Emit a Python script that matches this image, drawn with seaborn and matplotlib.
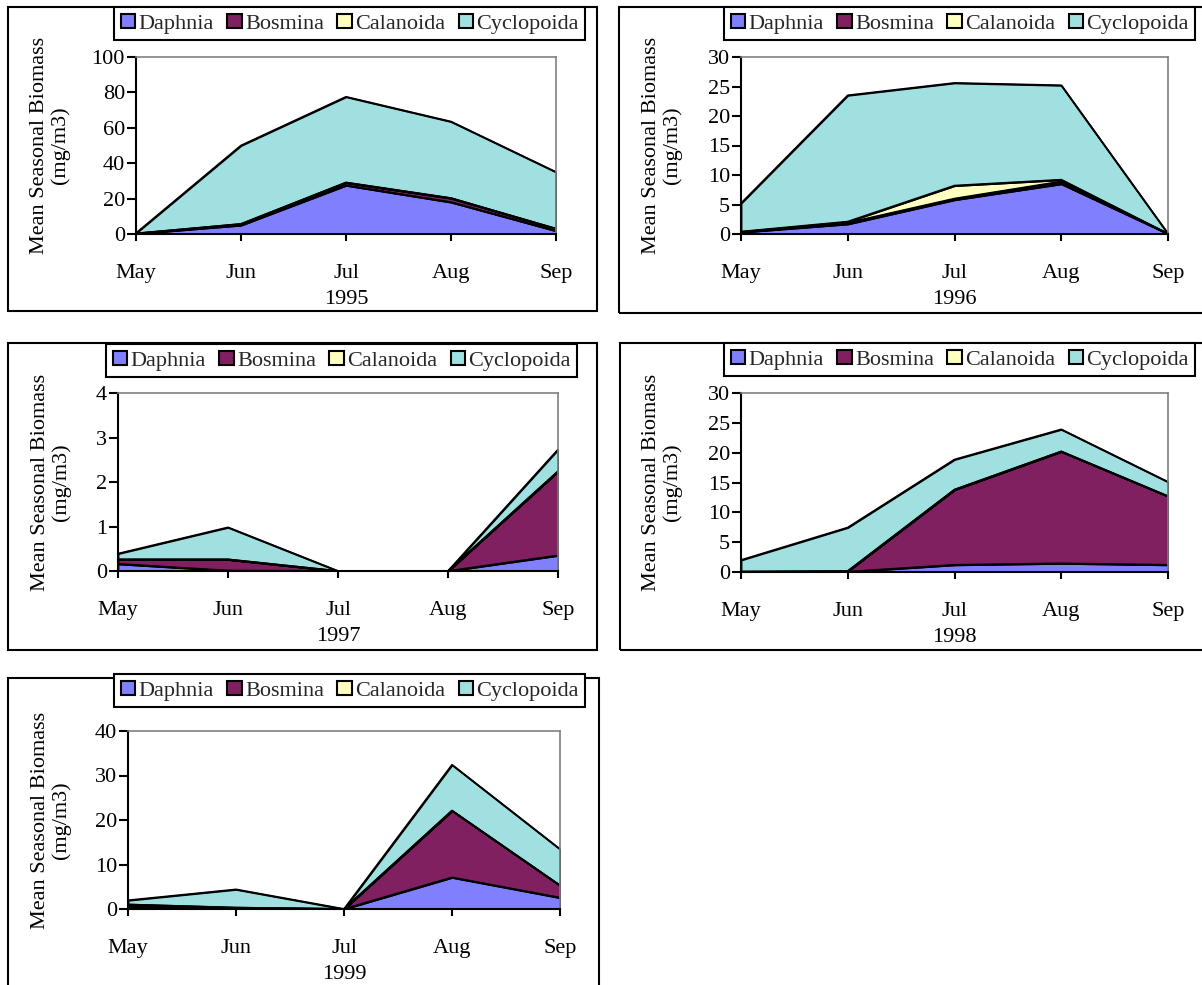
import numpy as np
import pandas as pd
import matplotlib
matplotlib.use("Agg")
import matplotlib.pyplot as plt
import seaborn as sns
from matplotlib.patches import Patch, Rectangle

# ---------------- data ----------------
months = ["May", "Jun", "Jul", "Aug", "Sep"]
species = ["Daphnia", "Bosmina", "Calanoida", "Cyclopoida"]
colors = ["#8080FF", "#802060", "#FFFFC0", "#A0E0E0"]

years = ["1995", "1996", "1997", "1998", "1999"]

daphnia_1995 = [0.2, 5.0, 27.5, 18.0, 1.8]
bosmina_1995 = [0.1, 0.6, 1.5, 2.2, 1.2]
calanoida_1995 = [0.0, 0.1, 0.1, 0.1, 0.0]
cyclopoida_1995 = [0.2, 44.3, 48.4, 43.2, 32.0]

daphnia_1996 = [0.3, 1.7, 5.8, 8.5, 0.05]
bosmina_1996 = [0.05, 0.2, 0.2, 0.4, 0.0]
calanoida_1996 = [0.05, 0.2, 2.2, 0.3, 0.0]
cyclopoida_1996 = [4.8, 21.4, 17.4, 16.0, 0.0]

daphnia_1997 = [0.16, 0.01, 0.0, 0.0, 0.35]
bosmina_1997 = [0.10, 0.25, 0.0, 0.0, 1.89]
calanoida_1997 = [0.0, 0.0, 0.0, 0.0, 0.0]
cyclopoida_1997 = [0.13, 0.72, 0.0, 0.0, 0.49]

daphnia_1998 = [0.05, 0.05, 1.2, 1.45, 1.2]
bosmina_1998 = [0.0, 0.1, 12.6, 18.75, 11.5]
calanoida_1998 = [0.0, 0.0, 0.0, 0.0, 0.0]
cyclopoida_1998 = [1.95, 7.3, 5.05, 3.7, 2.4]

daphnia_1999 = [0.5, 0.2, 0.0, 7.1, 2.55]
bosmina_1999 = [0.5, 0.1, 0.0, 15.0, 2.75]
calanoida_1999 = [0.0, 0.0, 0.0, 0.0, 0.0]
cyclopoida_1999 = [0.95, 4.1, 0.0, 10.3, 8.15]

y_max = [100, 30, 4, 30, 40]
y_step = [20, 5, 1, 5, 10]

series = {
    "1995": [daphnia_1995, bosmina_1995, calanoida_1995, cyclopoida_1995],
    "1996": [daphnia_1996, bosmina_1996, calanoida_1996, cyclopoida_1996],
    "1997": [daphnia_1997, bosmina_1997, calanoida_1997, cyclopoida_1997],
    "1998": [daphnia_1998, bosmina_1998, calanoida_1998, cyclopoida_1998],
    "1999": [daphnia_1999, bosmina_1999, calanoida_1999, cyclopoida_1999],
}

# ---------------- layout (pixels) ----------------
W, H = 1202, 985
axes_px = [(136, 57, 556, 234), (741, 57, 1168, 234), (118, 393, 558, 571),
           (741, 393, 1168, 572), (128, 731, 560, 909)]
frame_px = [(8, 7, 597, 311), (619, 7, 1215, 313), (8, 343, 597, 650),
            (620, 343, 1215, 650), (8, 678, 599, 1000)]
legend_px = [(114, 7), (724, 7), (106, 344), (724, 343), (114, 674)]
ylabel_x = [50, 662, 51, 662, 51]

sns.set_theme(style="ticks")
plt.rcParams["font.family"] = ["Liberation Serif", "DejaVu Serif"]
plt.rcParams["axes.facecolor"] = "white"

fig = plt.figure(figsize=(W / 100, H / 100), dpi=100)
FS = 16

for i, yr in enumerate(years):
    l, t, r, b = axes_px[i]
    ax = fig.add_axes([l / W, 1 - b / H, (r - l) / W, (b - t) / H])
    x = np.arange(len(months))
    vals = series[yr]
    ax.stackplot(x, *vals, colors=colors, edgecolor="black", linewidth=1.3)
    # cumulative outlines via seaborn
    cum = np.cumsum(np.array(vals), axis=0)
    rows = []
    for k, sp in enumerate(species):
        for j in range(len(months)):
            rows.append({"x": j, "cum": cum[k, j], "layer": sp})
    df = pd.DataFrame(rows)
    sns.lineplot(data=df, x="x", y="cum", units="layer", estimator=None,
                 color="black", linewidth=1.3, ax=ax, legend=False)

    ax.set_xlim(0, 4)
    ax.set_ylim(0, y_max[i])
    ticks = np.arange(0, y_max[i] + 1e-9, y_step[i])
    ax.set_yticks(ticks)
    ax.set_yticklabels([str(int(v)) for v in ticks], fontsize=FS)
    ax.set_xticks(x)
    ax.set_xticklabels(months, fontsize=FS)
    ax.tick_params(axis="x", length=5, width=1.5, pad=16.5, direction="out", color="black",
                   labelcolor="black")
    ax.tick_params(axis="y", length=6.5, width=1.5, pad=1.5, direction="out", color="black",
                   labelcolor="black")
    for s in ["left", "bottom"]:
        ax.spines[s].set_color("black")
        ax.spines[s].set_linewidth(1.5)
    for s in ["top", "right"]:
        ax.spines[s].set_visible(True)
        ax.spines[s].set_color("#808080")
        ax.spines[s].set_linewidth(1.2)
    ax.set_xlabel(yr, fontsize=FS, labelpad=5, color="black")
    ax.set_ylabel("")

    fig.text(ylabel_x[i] / W, 1 - ((t + b) / 2) / H, "Mean Seasonal Biomass\n(mg/m3)",
             rotation=90, ha="center", va="center", fontsize=FS, linespacing=1.1,
             multialignment="center", color="black")

    handles = [Patch(facecolor=c, edgecolor="black", linewidth=1.5) for c in colors]
    lx, ly = legend_px[i]
    leg = fig.legend(handles, species, loc="upper left", bbox_to_anchor=(lx / W, 1 - ly / H),
                     bbox_transform=fig.transFigure, ncol=4, frameon=True, fancybox=False,
                     edgecolor="black", facecolor="white", framealpha=1, borderpad=0.3,
                     handlelength=0.65, handleheight=0.6, handletextpad=0.15,
                     columnspacing=0.6, fontsize=FS, borderaxespad=0)
    leg.get_frame().set_linewidth(1.5)

    fl, ft, fr, fb = frame_px[i]
    fig.patches.append(Rectangle((fl / W, 1 - fb / H), (fr - fl) / W, (fb - ft) / H,
                                 transform=fig.transFigure, fill=False, edgecolor="black",
                                 linewidth=1.5, zorder=0))

fig.savefig("out.png", dpi=100, facecolor="white")
